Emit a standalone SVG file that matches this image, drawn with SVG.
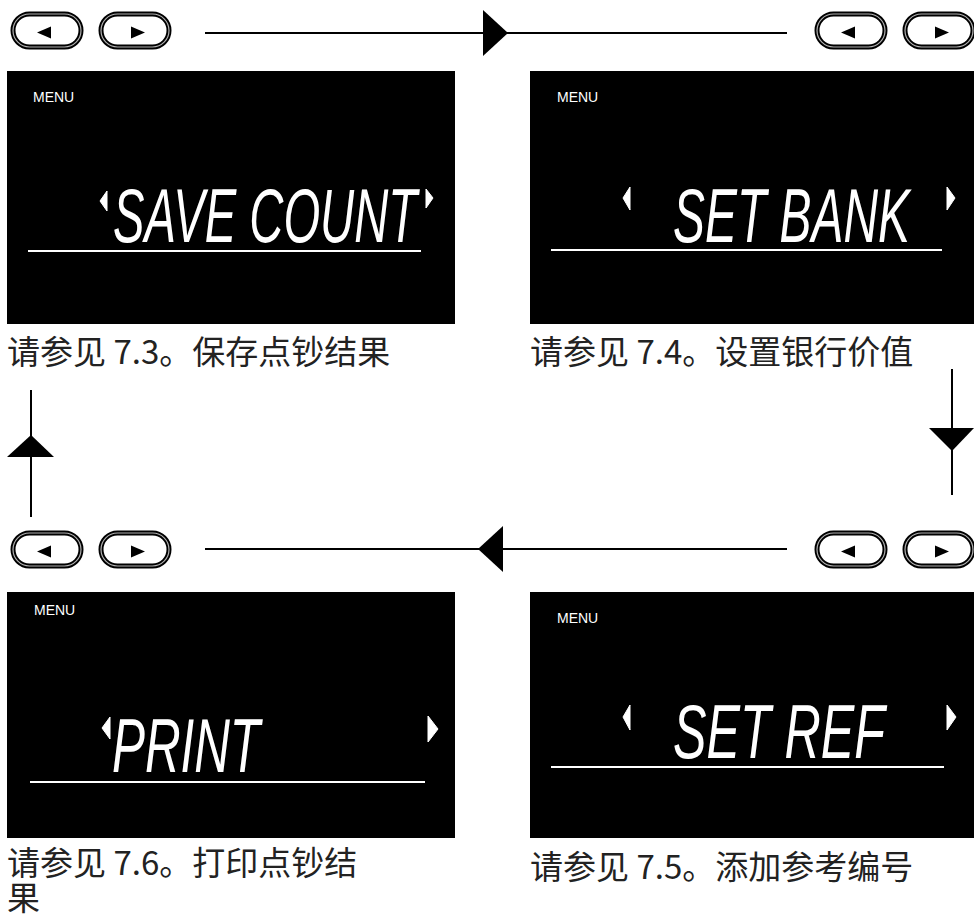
<svg xmlns="http://www.w3.org/2000/svg" xmlns:xlink="http://www.w3.org/1999/xlink" width="974" height="920" viewBox="0 0 974 920">
<style>
.screen{fill:#000}
.menu{font-family:"Liberation Sans",Arial,sans-serif;font-size:14px;fill:#fff}
.lcd{font-family:"Liberation Sans",Arial,sans-serif;font-style:italic;font-size:48px;fill:#fff}
.uline{stroke:#fff;stroke-width:2}
.tri{fill:#fff;stroke:#fff;stroke-width:1;stroke-linejoin:round}
.cap{font-family:"Noto Sans CJK SC","Noto Sans",sans-serif;font-size:33px;fill:#222}
.conn{stroke:#000;stroke-width:2;fill:none}
.head{fill:#000}
.bo{fill:#fff;stroke:#000;stroke-width:5}
.bi{fill:none;stroke:#b0b0b0;stroke-width:1.2}
</style>
<defs>
<g id="btnL">
<rect class="bo" x="2" y="2" width="68" height="33" rx="16.5"/>
<rect class="bi" x="2" y="2" width="68" height="33" rx="16.5"/>
<polygon points="26,20.5 40,14.5 40,26.5" fill="#000"/>
</g>
<g id="btnR">
<rect class="bo" x="2" y="2" width="68" height="33" rx="16.5"/>
<rect class="bi" x="2" y="2" width="68" height="33" rx="16.5"/>
<polygon points="46,20.5 32,14.5 32,26.5" fill="#000"/>
</g>
</defs>

<g id="connectors">
<line class="conn" x1="205" y1="33" x2="787" y2="33"/>
<polygon class="head" points="483,10 508,33 483,56"/>
<line class="conn" x1="952" y1="369" x2="952" y2="495"/>
<polygon class="head" points="929,428 974,428 952,451"/>
<line class="conn" x1="205" y1="549" x2="787" y2="549"/>
<polygon class="head" points="503,526 478,549 503,572"/>
<line class="conn" x1="31" y1="390" x2="31" y2="517"/>
<polygon class="head" points="7,457 54,457 31,435"/>
</g>

<g id="node-save-count">
<use xlink:href="#btnL" x="11" y="12"/>
<use xlink:href="#btnR" x="99" y="12"/>
<rect class="screen" x="7" y="71" width="448" height="253"/>
<text class="menu" x="33" y="102">MENU</text>
<polygon class="tri" points="100,201 107,191 107,211"/>
<text class="lcd" transform="translate(113,242) scale(1,1.58)" x="0" y="0" textLength="304" lengthAdjust="spacingAndGlyphs">SAVE COUNT</text>
<polygon class="tri" points="433,198 426,189 426,208"/>
<line class="uline" x1="28" y1="251" x2="421" y2="251"/>
<text class="cap" x="7" y="364">请参见 7.3。保存点钞结果</text>
</g>

<g id="node-set-bank">
<use xlink:href="#btnL" x="815" y="12"/>
<use xlink:href="#btnR" x="903" y="12"/>
<rect class="screen" x="530" y="71" width="444" height="253"/>
<text class="menu" x="557" y="102">MENU</text>
<polygon class="tri" points="623,198 630,187 630,210"/>
<text class="lcd" transform="translate(673,242) scale(1,1.58)" x="0" y="0" textLength="237" lengthAdjust="spacingAndGlyphs">SET BANK</text>
<polygon class="tri" points="955,198 947,187 947,210"/>
<line class="uline" x1="551" y1="250" x2="942" y2="250"/>
<text class="cap" x="530" y="364">请参见 7.4。设置银行价值</text>
</g>

<g id="node-print">
<use xlink:href="#btnL" x="11" y="531"/>
<use xlink:href="#btnR" x="99" y="531"/>
<rect class="screen" x="7" y="592" width="448" height="246"/>
<text class="menu" x="34" y="615">MENU</text>
<polygon class="tri" points="102,728 110,717 110,739"/>
<text class="lcd" transform="translate(112,772) scale(1,1.6)" x="0" y="0" textLength="148" lengthAdjust="spacingAndGlyphs">PRINT</text>
<polygon class="tri" points="438,729 428,716 428,742"/>
<line class="uline" x1="30" y1="782" x2="425" y2="782"/>
<text class="cap"><tspan x="7" y="875">请参见 7.6。打印点钞结</tspan><tspan x="7" y="910">果</tspan></text>
</g>

<g id="node-set-ref">
<use xlink:href="#btnL" x="815" y="531"/>
<use xlink:href="#btnR" x="903" y="531"/>
<rect class="screen" x="530" y="592" width="444" height="246"/>
<text class="menu" x="557" y="623">MENU</text>
<polygon class="tri" points="623,717 630,705 630,730"/>
<text class="lcd" transform="translate(673,758) scale(1,1.58)" x="0" y="0" textLength="212" lengthAdjust="spacingAndGlyphs">SET REF</text>
<polygon class="tri" points="956,717 947,705 947,730"/>
<line class="uline" x1="551" y1="767" x2="944" y2="767"/>
<text class="cap" x="530" y="879">请参见 7.5。添加参考编号</text>
</g>
</svg>
